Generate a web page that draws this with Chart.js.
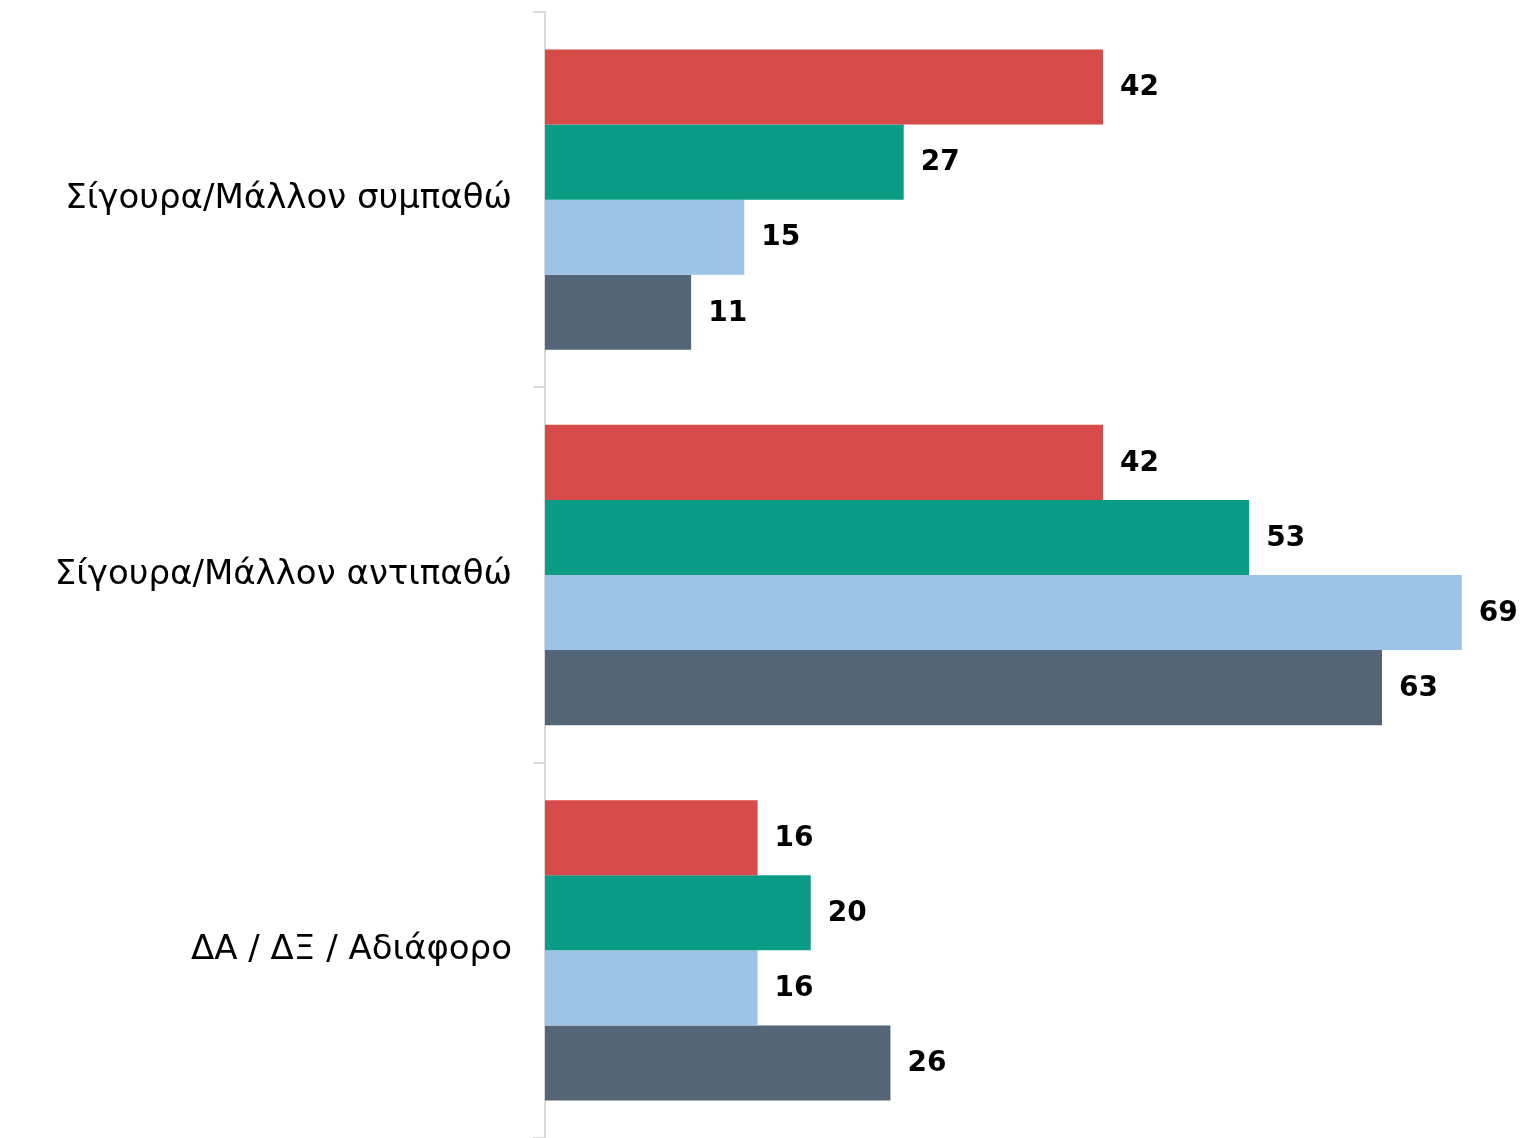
<!DOCTYPE html>
<html>
<head>
<meta charset="utf-8">
<script src="https://cdn.jsdelivr.net/npm/chart.js@4"></script>
<style>
  html, body { margin: 0; padding: 0; background: #fff; }
  #wrap { width: 1522px; height: 1138px; }
</style>
</head>
<body>
<div id="wrap"><canvas id="canvas" width="1522" height="1138"></canvas></div>
<script>
// Κατηγορίες
const labels = ['Σίγουρα/Μάλλον συμπαθώ', 'Σίγουρα/Μάλλον αντιπαθώ', 'ΔΑ / ΔΞ / Αδιάφορο'];

// Τιμές ανά σειρά (%)
const series1 = [42, 42, 16];
const series2 = [27, 53, 20];
const series3 = [15, 69, 16];
const series4 = [11, 63, 26];

const seriesNames = ['Σειρά 1', 'Σειρά 2', 'Σειρά 3', 'Σειρά 4'];
const colors = ['#D64A4A', '#0A9C84', '#9DC3E6', '#546577'];

const FONT = "'DejaVu Sans', sans-serif";

// Ετικέτες τιμών στο τέλος κάθε μπάρας
const valueLabels = {
  id: 'valueLabels',
  afterDatasetsDraw(chart) {
    const ctx = chart.ctx;
    ctx.save();
    ctx.font = 'bold 28px ' + FONT;
    ctx.fillStyle = '#000';
    ctx.textBaseline = 'middle';
    ctx.textAlign = 'left';
    chart.data.datasets.forEach((ds, i) => {
      chart.getDatasetMeta(i).data.forEach((bar, j) => {
        ctx.fillText(ds.data[j], bar.x + 17, bar.y + 1);
      });
    });
    ctx.restore();
  }
};

const data = {
  labels: labels,
  datasets: [series1, series2, series3, series4].map((d, i) => ({
    label: seriesNames[i],
    data: d,
    backgroundColor: colors[i],
    borderWidth: 0,
    categoryPercentage: 0.8,
    barPercentage: 1.0
  }))
};

const config = {
  type: 'bar',
  data: data,
  options: {
    indexAxis: 'y',
    responsive: false,
    animation: false,
    devicePixelRatio: 1,
    layout: { padding: { top: 12, right: 47, bottom: 0, left: 0 } },
    plugins: {
      legend: { display: false },
      tooltip: { enabled: false }
    },
    scales: {
      x: { display: false, min: 0, max: 70 },
      y: {
        afterFit: (scale) => {
          scale.width = 545;
          scale.paddingTop = 0;
          scale.paddingBottom = 0;
        },
        border: { color: '#d9d9d9', width: 2 },
        grid: {
          drawOnChartArea: false,
          drawTicks: true,
          tickLength: 12,
          color: '#d9d9d9',
          lineWidth: 2
        },
        ticks: {
          color: '#000',
          padding: 21,
          font: { family: FONT, size: 34 }
        }
      }
    }
  },
  plugins: [valueLabels]
};

const canvas = document.getElementById('canvas');
const chart = new Chart(canvas, config);
</script>
</body>
</html>
